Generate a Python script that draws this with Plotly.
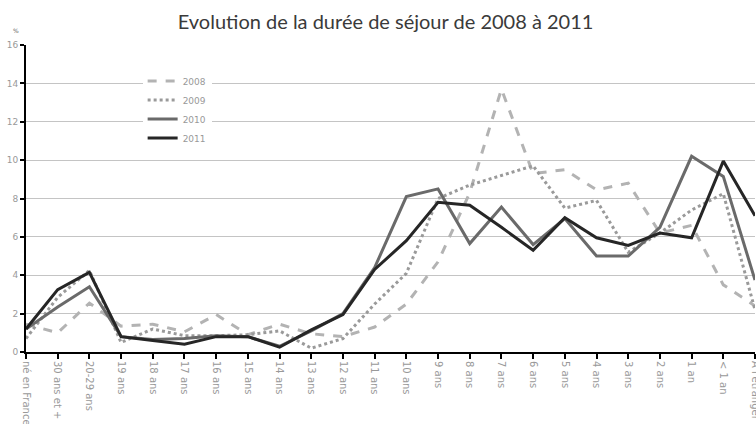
import plotly.graph_objects as go

categories = ["né en France", "30 ans et +", "20-29 ans", "19 ans", "18 ans", "17 ans",
              "16 ans", "15 ans", "14 ans", "13 ans", "12 ans", "11 ans", "10 ans",
              "9 ans", "8 ans", "7 ans", "6 ans", "5 ans", "4 ans", "3 ans", "2 ans",
              "1 an", "< 1 an", "A l'étranger"]

y2008 = [1.45, 1.0, 2.55, 1.35, 1.45, 1.05, 1.95, 0.9, 1.45, 0.95, 0.8, 1.3, 2.5,
         4.7, 8.3, 13.7, 9.3, 9.5, 8.45, 8.8, 6.2, 6.6, 3.5, 2.4]
y2009 = [0.7, 2.85, 4.25, 0.5, 1.2, 0.85, 0.85, 0.9, 1.1, 0.2, 0.7, 2.5, 4.1,
         8.0, 8.7, 9.2, 9.7, 7.5, 7.9, 5.2, 6.2, 7.4, 8.25, 2.2]
y2010 = [1.2, 2.35, 3.4, 0.8, 0.65, 0.7, 0.85, 0.8, 0.3, 1.1, 2.0, 4.4, 8.1,
         8.5, 5.65, 7.55, 5.6, 6.95, 5.0, 5.0, 6.5, 10.2, 9.15, 3.75]
y2011 = [1.2, 3.25, 4.15, 0.8, 0.6, 0.4, 0.8, 0.8, 0.25, 1.15, 1.95, 4.3, 5.8,
         7.8, 7.65, 6.5, 5.3, 7.0, 5.95, 5.55, 6.2, 5.95, 9.95, 7.1]

series = [
    ("2008", y2008, "#b3b3b3", "dash"),
    ("2009", y2009, "#9a9a9a", "dot"),
    ("2010", y2010, "#6a6a6a", "solid"),
    ("2011", y2011, "#262626", "solid"),
]

fig = go.Figure()
for name, vals, color, dash in series:
    fig.add_trace(go.Scatter(x=categories, y=vals, name=name, mode="lines",
                             line=dict(color=color, width=3, dash=dash)))

fig.update_layout(
    width=756, height=424,
    margin=dict(l=26, r=1, t=45, b=72),
    paper_bgcolor="white", plot_bgcolor="white",
    title=dict(text="Evolution de la durée de séjour de 2008 à 2011",
               x=0.51, xanchor="center", y=0.947, yanchor="middle",
               font=dict(family="Lato", size=20, color="#3a3a3a")),
    legend=dict(x=0.16, y=0.93, xanchor="left", yanchor="top",
                bgcolor="white", font=dict(family="DejaVu Sans", size=9, color="#999999"),
                tracegroupgap=0, itemwidth=30),
    showlegend=True,
    font=dict(family="DejaVu Sans", size=9, color="#999999"),
)
fig.update_xaxes(type="category", range=[0, 23], tickangle=90, automargin=False,
                 showline=True, linecolor="black", linewidth=2,
                 ticks="outside", ticklen=5, tickcolor="black", tickwidth=2,
                 showgrid=False, tickfont=dict(size=10, color="#999999"))
fig.update_yaxes(range=[0, 16], dtick=2, automargin=False,
                 showline=True, linecolor="black", linewidth=2,
                 ticks="outside", ticklen=4, tickcolor="black", tickwidth=2,
                 showgrid=True, gridcolor="#c4c4c4", gridwidth=1, zeroline=False,
                 tickfont=dict(size=9, color="#999999"))
fig.add_annotation(text="%", xref="paper", yref="paper", x=-0.02, y=1.0, yshift=15,
                   yanchor="middle", showarrow=False, font=dict(size=6, color="#666666"))

# drop the page's default body margin so the figure sits at the window's corner
fig.write_html("out.html", config={"displayModeBar": False},
               post_script="document.body.style.margin='0';")
